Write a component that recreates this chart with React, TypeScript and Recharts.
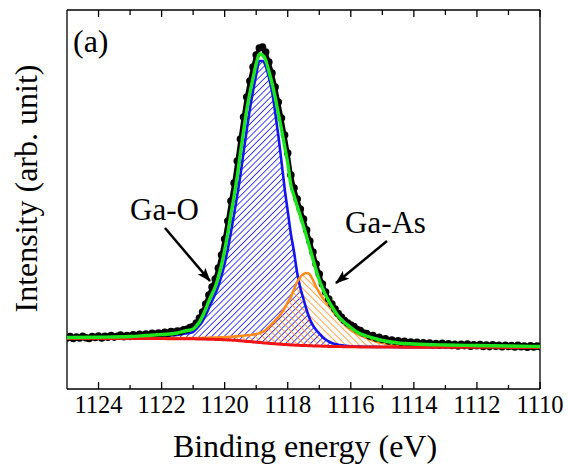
import React from 'react';
import { ComposedChart, Area, Line, Scatter, XAxis, YAxis } from 'recharts';

// Ga 2p3/2 region, binding energy in eV, intensity in arb. units
const energyTicks = [1124, 1123, 1122, 1121, 1120, 1119, 1118, 1117, 1116, 1115, 1114, 1113, 1112, 1111, 1110];

const fitEnergy = [
  1125, 1124, 1123, 1122.5, 1122, 1121.5, 1121.25,
  1121.0, 1120.9, 1120.8, 1120.7, 1120.6, 1120.5, 1120.4, 1120.3, 1120.2, 1120.1,
  1120.0, 1119.9, 1119.8, 1119.7, 1119.6, 1119.5, 1119.4, 1119.3, 1119.2, 1119.1,
  1119.0, 1118.9, 1118.8, 1118.7, 1118.6, 1118.5, 1118.4, 1118.3, 1118.2, 1118.1,
  1118.0, 1117.9, 1117.8, 1117.7, 1117.6, 1117.5, 1117.4, 1117.3, 1117.2, 1117.1,
  1117.0, 1116.9, 1116.8, 1116.7, 1116.6, 1116.5, 1116.4, 1116.3, 1116.2, 1116.1,
  1116.0, 1115.75, 1115.5, 1115.25, 1115, 1114.5, 1114, 1113, 1112, 1111, 1110,
];

const background = [
  50.5, 50.5, 50.5, 50.4, 50.4, 50.3, 50.3,
  50.2, 50.1, 50.0, 50.0, 49.9, 49.8, 49.7, 49.6, 49.5, 49.4,
  49.3, 49.1, 48.9, 48.7, 48.5, 48.2, 47.9, 47.6, 47.4, 47.1,
  46.8, 46.5, 46.2, 46.0, 45.7, 45.4, 45.2, 44.9, 44.7, 44.5,
  44.3, 44.1, 43.9, 43.8, 43.6, 43.5, 43.4, 43.2, 43.1, 43.0,
  42.9, 42.8, 42.7, 42.6, 42.6, 42.5, 42.4, 42.4, 42.3, 42.3,
  42.2, 42.1, 42.0, 42.0, 41.9, 41.9, 41.8, 41.7, 41.7, 41.6, 41.6,
];

const gaOxide = [
  50.8, 51.0, 51.5, 52.0, 52.8, 54.0, 55.5,
  57, 60, 63.5, 68, 74, 81, 88, 95, 103, 113,
  125, 140, 157, 175, 194, 214, 237, 259, 280, 298,
  314, 328, 328, 323, 312, 298, 277, 254, 228, 201,
  178, 155, 137, 116, 101, 90, 79, 70, 63.5, 59,
  55.5, 52, 49.5, 47.5, 46, 45, 44.3, 43.8, 43.3, 43.0,
  42.7, 42.4, 42.2, 42.1, 42.0, 41.9, 41.8, 41.7, 41.7, 41.6, 41.6,
];

const gaArsenide = [
  50.6, 50.6, 50.7, 50.7, 50.8, 50.9, 50.9,
  51.0, 51.0, 51.0, 51.1, 51.2, 51.3, 51.4, 51.5, 51.6, 51.7,
  51.9, 52.0, 52.2, 52.5, 52.8, 53.1, 53.4, 53.7, 54.0, 54.5,
  55.0, 55.8, 57.0, 59.0, 62.0, 65.0, 68.5, 72.0, 76.0, 81.0,
  86.5, 92.0, 99.5, 107.0, 112.0, 115.0, 116.0, 114.5, 109.0, 102.0,
  96.5, 91.5, 87.5, 83.5, 79.5, 74.5, 71.0, 67.5, 64.5, 61.5,
  59.0, 54.5, 51.0, 48.0, 46.0, 43.5, 42.5, 42.0, 41.8, 41.6, 41.6,
];

const envelope = [
  51.5, 51.8, 52.5, 53.5, 54.5, 56, 58,
  60, 63, 67, 73, 80, 88, 95, 102, 112, 124,
  139, 156, 175, 193, 213, 236, 258, 279, 296, 311,
  325, 335, 334, 329, 318, 306, 292, 276, 260, 243,
  226, 204, 193, 183, 173, 163, 152, 141, 130, 119,
  109, 101, 94, 88, 82.5, 77.5, 73, 69.5, 66.5, 64,
  61.5, 56, 53, 50.5, 48.5, 46, 45, 44, 43.5, 43, 42.5,
];

const measured: [number, number][] = [
  [1125.0, 51], [1124.9, 52.5], [1124.8, 50.5], [1124.7, 52], [1124.6, 51], [1124.5, 52.8], [1124.4, 51.2], [1124.3, 50.6], [1124.2, 52.4], [1124.1, 51.5],
  [1124.0, 53], [1123.9, 51], [1123.8, 52.6], [1123.7, 51.8], [1123.6, 53.4], [1123.5, 51.9], [1123.4, 52.8], [1123.3, 54], [1123.2, 52.2], [1123.1, 53.5],
  [1123.0, 52.6], [1122.9, 54.2], [1122.8, 53], [1122.7, 54.6], [1122.6, 53.4], [1122.5, 55], [1122.4, 53.8], [1122.3, 55.6], [1122.2, 54.4], [1122.1, 56],
  [1122.0, 55.2], [1121.9, 56.8], [1121.8, 55.6], [1121.7, 57.5], [1121.6, 56.8], [1121.5, 58], [1121.4, 57.6], [1121.3, 59.2], [1121.2, 59.6], [1121.1, 61.5],
  [1121.0, 62.5], [1120.9, 66], [1120.8, 71], [1120.7, 77], [1120.6, 85], [1120.5, 94], [1120.4, 102], [1120.3, 110], [1120.2, 121], [1120.1, 134],
  [1120.0, 150], [1119.9, 168], [1119.8, 188], [1119.7, 206], [1119.6, 228], [1119.5, 250], [1119.4, 272], [1119.3, 292], [1119.2, 308], [1119.1, 322],
  [1119.0, 334], [1118.9, 341], [1118.8, 342], [1118.7, 337], [1118.6, 327], [1118.5, 316], [1118.4, 302], [1118.3, 287], [1118.2, 271], [1118.1, 254],
  [1118.0, 236], [1117.9, 214], [1117.8, 201], [1117.7, 190], [1117.6, 180], [1117.5, 170], [1117.4, 159], [1117.3, 148], [1117.2, 137], [1117.1, 125],
  [1117.0, 115], [1116.9, 105], [1116.8, 97], [1116.7, 90], [1116.6, 85], [1116.5, 80], [1116.4, 75.5], [1116.3, 72], [1116.2, 68.5], [1116.1, 66],
  [1116.0, 64], [1115.9, 62.5], [1115.8, 59.5], [1115.7, 58.5], [1115.6, 56], [1115.5, 55.5], [1115.4, 53], [1115.3, 53.5], [1115.2, 51], [1115.1, 51.6],
  [1115.0, 49.5], [1114.9, 50.2], [1114.8, 48], [1114.7, 49], [1114.6, 47.4], [1114.5, 48.2], [1114.4, 46.5], [1114.3, 47.6], [1114.2, 45.8], [1114.1, 47],
  [1114.0, 45.5], [1113.9, 46.8], [1113.8, 44.6], [1113.7, 46.2], [1113.6, 44.9], [1113.5, 46], [1113.4, 44.2], [1113.3, 45.5], [1113.2, 43.8], [1113.1, 45.6],
  [1113.0, 44], [1112.9, 45.2], [1112.8, 43.5], [1112.7, 44.8], [1112.6, 43], [1112.5, 44.6], [1112.4, 43.4], [1112.3, 45], [1112.2, 42.8], [1112.1, 44.2],
  [1112.0, 43.2], [1111.9, 44.5], [1111.8, 42.6], [1111.7, 43.9], [1111.6, 42.4], [1111.5, 44.2], [1111.4, 42.8], [1111.3, 43.6], [1111.2, 42.2], [1111.1, 43.8],
  [1111.0, 42.5], [1110.9, 43.4], [1110.8, 42], [1110.7, 43.6], [1110.6, 42.3], [1110.5, 43], [1110.4, 41.8], [1110.3, 43.2], [1110.2, 42.1], [1110.1, 42.9],
  [1110.0, 42.4],
];

const table = fitEnergy.map((e, i) => ({
  e,
  bg: background[i],
  oxide: gaOxide[i],
  arsenide: gaArsenide[i],
  oxideBand: [background[i], gaOxide[i]],
  arsenideBand: [background[i], gaArsenide[i]],
  fit: envelope[i],
}));

const points = measured.map(([e, i]) => ({ e, i }));

const SERIF = 'Liberation Serif';
const serif = { fontFamily: "'Liberation Serif'" };
const BLUE = '#1414f0';
const ORANGE = '#ff8a1e';
const GREEN = '#1ee61e';
const RED = '#f01414';

const BottomTick = ({ x, y, payload }: any) => {
  const major = payload.value % 2 === 0;
  return (
    <g>
      <line x1={x} x2={x} y1={y} y2={y - (major ? 7 : 4)} stroke="#000" strokeWidth={1.3} />
      {major && (
        <text className="serif-text" x={x} y={y + 24} textAnchor="middle" fontFamily={SERIF} style={serif} fontSize={24.5} fill="#000">
          {payload.value}
        </text>
      )}
    </g>
  );
};

const TopTick = ({ x, y, payload }: any) => {
  const major = payload.value % 2 === 0;
  return <line x1={x} x2={x} y1={y} y2={y + (major ? 7 : 5)} stroke="#000" strokeWidth={1.3} />;
};

const Dot = (p: any) => <circle cx={p.cx} cy={p.cy} r={3.8} fill="#000" />;

export default function App() {
  const frame = { stroke: '#000', strokeWidth: 1.3 };
  return (
    <div style={{ position: 'absolute', left: 0, top: 0, width: 568, height: 472 }}>
      <style>{"text, .serif-text, .recharts-text { font-family: 'Liberation Serif' !important; }"}</style>
      <ComposedChart width={568} height={472} data={table} margin={{ top: 0, right: 0, bottom: 0, left: 0 }}>
        <XAxis
          dataKey="e"
          type="number"
          domain={[1110, 1125]}
          reversed
          allowDataOverflow
          ticks={energyTicks}
          interval={0}
          tick={BottomTick}
          tickLine={false}
          tickSize={0}
          tickMargin={0}
          height={83}
          axisLine={frame}
        />
        <XAxis
          xAxisId="top"
          orientation="top"
          dataKey="e"
          type="number"
          domain={[1110, 1125]}
          reversed
          allowDataOverflow
          ticks={energyTicks}
          interval={0}
          tick={TopTick}
          tickLine={false}
          tickSize={0}
          tickMargin={0}
          height={10}
          axisLine={frame}
        />
        <YAxis type="number" domain={[0, 379]} allowDataOverflow width={67} tick={false} tickLine={false} axisLine={frame} />
        <YAxis yAxisId="right" orientation="right" type="number" domain={[0, 379]} width={28} tick={false} tickLine={false} axisLine={frame} />

        <Area type="monotone" dataKey="oxideBand" stroke="none" fill="url(#hatchBlue)" fillOpacity={1} isAnimationActive={false} />
        <Area type="monotone" dataKey="arsenideBand" stroke="none" fill="url(#hatchOrange)" fillOpacity={1} isAnimationActive={false} />
        <Scatter
          data={points}
          dataKey="i"
          shape={Dot}
          line={{ stroke: '#000', strokeWidth: 4 }}
          lineType="joint"
          isAnimationActive={false}
        />
        <Line type="monotone" dataKey="oxide" stroke={BLUE} strokeWidth={2.6} dot={false} isAnimationActive={false} />
        <Line type="monotone" dataKey="arsenide" stroke={ORANGE} strokeWidth={2.6} dot={false} isAnimationActive={false} />
        <Line type="monotone" dataKey="bg" stroke={RED} strokeWidth={3} dot={false} isAnimationActive={false} zIndex={700} />
        <Line type="monotone" dataKey="fit" stroke={GREEN} strokeWidth={3.4} dot={false} isAnimationActive={false} zIndex={800} />
      </ComposedChart>
      <svg width={568} height={472} style={{ position: 'absolute', left: 0, top: 0 }}>
        <defs>
          <pattern id="hatchBlue" patternUnits="userSpaceOnUse" width={4.4} height={4.4} patternTransform="rotate(45)">
            <line x1={0} y1={0} x2={0} y2={4.4} stroke={BLUE} strokeWidth={1.6} />
          </pattern>
          <pattern id="hatchOrange" patternUnits="userSpaceOnUse" width={4.8} height={4.8} patternTransform="rotate(-45)">
            <line x1={0} y1={0} x2={0} y2={4.8} stroke={ORANGE} strokeWidth={1.5} />
          </pattern>
          <marker id="arrowHead" markerUnits="userSpaceOnUse" markerWidth={14} markerHeight={10} refX={13} refY={5} orient="auto">
            <path d="M0,0 L14,5 L0,10 L3,5 z" fill="#000" />
          </marker>
        </defs>
        <text className="serif-text" x={73} y={52} fontSize={32} fontFamily={SERIF} style={serif} fill="#000">(a)</text>
        <text className="serif-text" x={130} y={220} fontSize={31} fontFamily={SERIF} style={serif} fill="#000">Ga-O</text>
        <text className="serif-text" x={345} y={233} fontSize={31} fontFamily={SERIF} style={serif} fill="#000">Ga-As</text>
        <text className="serif-text" x={305} y={457} textAnchor="middle" fontSize={32} fontFamily={SERIF} style={serif} fill="#000">
          Binding energy (eV)
        </text>
        <text className="serif-text" transform="translate(37,188.5) rotate(-90)" textAnchor="middle" fontSize={32} fontFamily={SERIF} style={serif} fill="#000">
          Intensity (arb. unit)
        </text>
        <line x1={165} y1={228} x2={210} y2={281} stroke="#000" strokeWidth={2.5} markerEnd="url(#arrowHead)" />
        <line x1={387} y1={241} x2={336} y2={283} stroke="#000" strokeWidth={2.5} markerEnd="url(#arrowHead)" />
      </svg>
    </div>
  );
}
